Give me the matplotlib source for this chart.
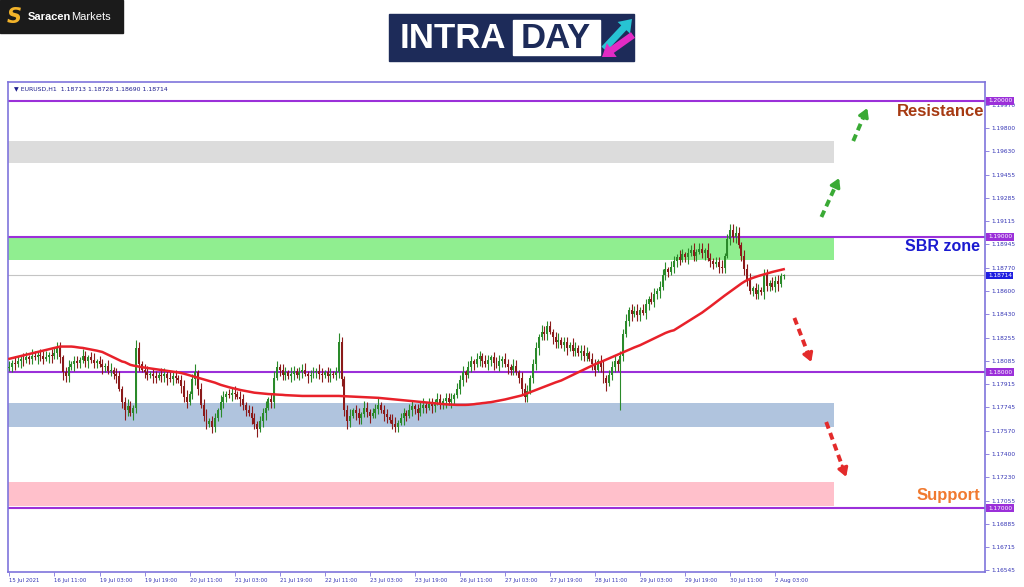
import numpy as np
import matplotlib.pyplot as plt
import matplotlib.transforms as mtransforms
from matplotlib.patches import Rectangle, FancyArrow

# hourly EURUSD candles, prices kept in pips above 1.17000
first_open = 103
closes = [104, 107, 106, 108, 110, 109, 111, 110, 112, 111, 113, 112, 110, 111, 113, 112, 114, 118, 111,
          100, 97,
          104, 106, 108, 107, 109, 112, 108, 111, 109, 107, 108,
          106, 104, 105, 101, 102, 99, 97,
          88, 78, 72, 75, 70, 74,
          118, 106,
          102, 100, 98, 99, 97, 96, 98, 97, 99, 96, 95, 97, 96, 94,
          90, 82, 78, 84, 95, 100,
          88, 76, 68, 62, 64, 60, 66,
          72, 78, 82, 84, 83, 85, 84, 82, 80,
          76, 72, 70, 66, 62, 58, 64,
          70, 74, 80, 78,
          96, 104, 102,
          98, 100, 97, 99, 101, 98, 100, 102, 99, 97, 98, 100, 101, 99, 98, 100, 97, 99, 98, 100,
          122, 95, 72, 64,
          68, 72, 70, 66, 69, 74, 71, 68, 70, 73, 76, 72, 69, 67, 65, 62, 60, 63, 66, 70, 68, 72, 75, 73, 70, 74,
          76, 74, 77, 75, 78, 80, 77, 79, 81, 78, 80, 83,
          88, 94, 100, 98, 104, 108, 106,
          110, 112, 108, 106, 109, 111, 107, 105, 108, 110, 106, 104, 102, 105, 100, 96,
          88, 82, 86,
          96, 106, 118, 126, 130, 128, 134,
          130, 126, 122, 124, 120, 122, 118, 120, 116, 118, 114, 116, 112, 114, 110,
          106, 102, 108, 104, 96, 92, 98, 104, 108, 106,
          112,
          128, 138, 146, 143, 145, 142, 146, 144, 150, 154, 152, 158, 160, 163, 172, 176, 174, 178, 182, 185,
          183, 187, 185, 188, 190, 186, 189, 191, 188, 190, 184, 182, 180, 181, 178, 177, 186, 198, 205, 200,
          203, 194, 186, 176, 168, 160, 162, 158, 161, 159, 172, 164, 166, 163, 167, 165, 171.3, 171.4]

up_wick = [4, 2, 5, 4, 2, 4, 4, 2, 5, 4, 2, 4, 4, 5, 2, 4, 4, 4, 4, 2,
           4, 5, 2, 4, 4, 2, 5, 4, 2, 4, 5, 2, 4, 4, 2, 4, 5, 2, 4, 4,
           2, 4, 5, 4, 2, 6, 4, 2, 4, 5, 2, 4, 4, 2, 5, 4, 2, 4, 4, 5,
           2, 4, 4, 5, 2, 4, 6, 2, 4, 4, 5, 2, 4, 4, 2, 5, 4, 2, 4, 4,
           5, 2, 4, 4, 2, 4, 5, 4, 2, 4, 4, 5, 2, 4, 5, 4, 2, 4, 4, 2,
           5, 4, 2, 4, 4, 5, 2, 4, 4, 2, 5, 4, 2, 4, 4, 2, 4, 7, 4, 2,
           4, 5, 2, 4, 4, 2, 5, 4, 2, 4, 4, 5, 2, 4, 4, 2, 4, 5, 2, 4,
           4, 2, 5, 4, 2, 4, 4, 5, 2, 4, 4, 2, 5, 4, 2, 4, 4, 5, 2, 4,
           4, 5, 2, 4, 4, 2, 4, 4, 2, 5, 4, 2, 4, 4, 5, 2, 4, 4, 2, 5,
           4, 2, 4, 4, 5, 2, 4, 4, 2, 5, 4, 4, 4, 2, 4, 5, 2, 4, 4, 2,
           5, 4, 2, 4, 4, 5, 2, 4, 4, 2, 5, 4, 2, 4, 4, 5, 2, 4, 4, 5,
           2, 4, 4, 5, 2, 4, 4, 2, 5, 4, 2, 4, 4, 5, 2, 4, 4, 2, 5, 4,
           2, 4, 4, 5, 2, 4, 4, 2, 5, 4, 2, 4, 4, 5, 2, 4, 4, 4, 5, 4,
           2, 4, 4, 5, 2, 4, 4, 2, 4, 4, 2, 4, 4, 5, 2, 1.4]

dn_wick = [2, 4, 4, 2, 5, 4, 2, 4, 4, 2, 5, 4, 4, 2, 4, 5, 2, 4, 4, 6,
           4, 4, 2, 5, 4, 4, 2, 4, 5, 2, 4, 4, 2, 5, 4, 2, 4, 4, 5, 2,
           4, 7, 4, 2, 5, 4, 5, 2, 4, 4, 2, 5, 4, 2, 4, 4, 5, 2, 4, 4,
           2, 5, 4, 4, 2, 4, 4, 5, 2, 4, 4, 2, 5, 4, 2, 5, 4, 4, 2, 4,
           4, 2, 5, 4, 4, 2, 4, 4, 6, 2, 4, 5, 2, 4, 4, 2, 5, 4, 4, 2,
           4, 5, 2, 4, 4, 2, 5, 4, 2, 4, 4, 5, 2, 4, 4, 2, 4, 4, 5, 4,
           6, 4, 2, 5, 4, 4, 2, 4, 5, 2, 4, 4, 2, 5, 4, 2, 4, 4, 4, 2,
           5, 4, 2, 4, 4, 5, 2, 4, 4, 2, 5, 4, 2, 4, 4, 5, 2, 4, 4, 2,
           4, 4, 5, 2, 4, 4, 2, 5, 4, 2, 4, 4, 5, 2, 4, 4, 2, 5, 4, 4,
           2, 4, 5, 4, 4, 2, 4, 4, 5, 2, 4, 4, 2, 5, 4, 4, 2, 4, 5, 2,
           4, 4, 2, 5, 4, 4, 2, 4, 5, 2, 4, 4, 6, 2, 4, 4, 5, 34, 4, 2,
           4, 5, 2, 4, 4, 2, 5, 4, 2, 4, 4, 5, 2, 4, 4, 2, 5, 4, 4, 2,
           4, 5, 2, 4, 4, 2, 4, 5, 2, 4, 4, 2, 5, 4, 4, 2, 4, 4, 5, 2,
           4, 4, 4, 2, 4, 4, 4, 2, 5, 4, 4, 2, 4, 5, 2, 2.3]

# moving average (pips above 1.17000)
ma = [110, 110.5, 111, 111.5, 112, 112.5, 113, 113.5, 114, 114.5, 115, 115.5, 116, 116.5, 117, 117.5,
      118, 118.5, 119, 119, 119,
      119, 119, 118.8, 118.5, 118.2, 118, 117.6, 117.2, 116.8, 116.4, 116, 115.5, 115,
      114, 113, 112, 111, 110, 109, 108, 107.5, 106.5, 105.5, 105,
      104.6, 104.2, 103.8, 103.5, 103.2, 102.9, 102.6, 102.3, 102, 101.7, 101.4, 101.1, 100.8, 100.5,
      100.2, 99.9, 99.5,
      99, 98.4, 97.8, 97.2, 96.6, 96, 95.4, 94.8, 94.2, 93.6, 93, 92.4, 91.6, 90.8,
      90.2, 89.6, 89, 88.5, 88, 87.5, 87, 86.6, 86.2, 85.8, 85.4, 85,
      84.8, 84.6, 84.4, 84.2, 84, 83.9, 83.8, 83.6, 83.5, 83.4, 83.2, 83.1, 83, 82.9, 82.8, 82.7, 82.6,
      82.6, 82.6, 82.6, 82.6, 82.6, 82.6, 82.6, 82.6, 82.6, 82.6, 82.6, 82.6, 82.6, 82.5, 82.4, 82.3,
      82.2, 82.1, 82, 81.9, 81.8, 81.7, 81.6, 81.5, 81.4, 81.3, 81.2, 81,
      80.8, 80.6, 80.4, 80.2, 80, 79.8, 79.6, 79.4, 79.2, 79, 78.8, 78.6, 78.4, 78.2, 78, 77.8, 77.6,
      77.4, 77.2, 77, 76.8, 76.6, 76.4, 76.3, 76.2, 76.1, 76, 76,
      76, 76, 76.1, 76.3, 76.5, 76.8, 77, 77.3, 77.5, 77.8, 78,
      78.4, 78.8, 79.2, 79.6, 80, 80.5, 81, 81.5, 82, 82.5, 83,
      83.8, 84.6, 85.4, 86.2, 87, 87.8, 88.6, 89.4, 90.2, 91, 91.8, 92.6, 93.3, 94,
      95, 96, 97, 98, 99, 100, 101, 102, 103, 104, 105, 106, 106.8, 107.6,
      108.5, 109.4, 110.3, 111.2, 112.1, 113, 113.9, 114.8, 115.7, 116.6, 117.5, 118.4, 119.2, 120,
      121, 122, 123, 124, 125, 126, 127, 128, 129, 129.8, 130.5, 131,
      132.3, 133.6, 134.9, 136.2, 137.5, 138.8, 140.1, 141.4, 142.7, 144,
      145.5, 147, 148.6, 150.2, 151.8, 153.4, 155,
      156.5, 158, 159.5, 161, 162.5, 164, 165.5, 166.8, 168,
      168.8, 169.6, 170.3, 171, 171.6, 172.2, 172.8, 173.4, 174, 174.5, 175, 175.5, 176]

time_labels = ['15 Jul 2021', '16 Jul 11:00', '19 Jul 03:00', '19 Jul 19:00', '20 Jul 11:00',
               '21 Jul 03:00', '21 Jul 19:00', '22 Jul 11:00', '23 Jul 03:00', '23 Jul 19:00',
               '26 Jul 11:00', '27 Jul 03:00', '27 Jul 19:00', '28 Jul 11:00', '29 Jul 03:00',
               '29 Jul 19:00', '30 Jul 11:00', '2 Aug 03:00']
price_ticks = [1.19970, 1.19800, 1.19630, 1.19455, 1.19285, 1.19115, 1.18945, 1.18770, 1.18600,
               1.18430, 1.18255, 1.18085, 1.17915, 1.17745, 1.17570, 1.17400, 1.17230, 1.17055,
               1.16885, 1.16715, 1.16545]

levels = [1.20000, 1.19000, 1.18000, 1.17000]
zone_low = [1.19543, 1.18828, 1.17597, 1.17015]
zone_high = [1.19705, 1.19000, 1.17774, 1.17192]
zone_colors = ['#dcdcdc', '#90ee90', '#b0c4de', '#ffc0cb']
zone_end = 293
current_price = 1.18714

base = 1.17
pip = 0.0001
frame = '#7f74dc'
level_color = '#9b30d9'
label_color = '#3535b5'

c = base + np.array(closes) * pip
o = np.concatenate([[base + first_open * pip], c[:-1]])
h = np.maximum(o, c) + np.array(up_wick) * pip
l = np.minimum(o, c) - np.array(dn_wick) * pip
x = np.arange(len(c))

fig = plt.figure(figsize=(10.24, 5.87), dpi=100)
ax = fig.add_axes([8 / 1024, 15 / 587, 977 / 1024, 490 / 587])
ax.set_xlim(-0.5, 346.5)
ax.set_ylim(1.165283, 1.201400)

# zones and levels
for lo, hi, col in zip(zone_low, zone_high, zone_colors):
    ax.add_patch(Rectangle((-0.5, lo), zone_end + 0.5, hi - lo, color=col, lw=0, zorder=1))
for lv in levels:
    ax.axhline(lv, color=level_color, lw=1.5, zorder=2)
ax.axhline(current_price, color='#c4c4c4', lw=0.8, zorder=2)

# candles
cols = np.where(c >= o, '#2a8a2a', '#8b1a1a')
ax.vlines(x, l, h, colors=cols, lw=0.8, zorder=3)
body = np.maximum(np.abs(c - o), 0.00004)
ax.bar(x, body, bottom=np.minimum(o, c), width=0.7, color=cols, lw=0, zorder=4)
ax.plot(x, base + np.array(ma) * pip, color='#e8212a', lw=1.8, zorder=5)


def dashed_arrow(x0, y0, x1, y1, color):
    xm = x0 + (x1 - x0) * 0.8
    ym = y0 + (y1 - y0) * 0.8
    ax.plot([x0, xm], [y0, ym], color=color, lw=2.8, ls=(0, (1.8, 1.2)), zorder=6)
    ax.annotate('', xy=(x1, y1), xytext=(xm, ym),
                arrowprops=dict(arrowstyle='-|>,head_length=0.5,head_width=0.3', color=color,
                                lw=2.2, shrinkA=0, shrinkB=0), zorder=6)


dashed_arrow(288.4, 1.19145, 294.7, 1.19432, '#3aaa35')
dashed_arrow(299.7, 1.19705, 304.7, 1.19948, '#3aaa35')
dashed_arrow(278.8, 1.18401, 284.8, 1.18076, '#e32b2b')
dashed_arrow(290.1, 1.17634, 297.2, 1.17229, '#e32b2b')

bold_font = ['Liberation Sans', 'DejaVu Sans']
ax.text(346.2, 1.19919, 'Resistance', ha='right', va='center', color='#a63a12', fontsize=12,
        fontweight='bold', family=bold_font, zorder=7)
ax.text(344.7, 1.18924, 'SBR zone', ha='right', va='center', color='#1a1ad0', fontsize=11.5,
        fontweight='bold', family=bold_font, zorder=7)
ax.text(344.7, 1.17089, 'Support', ha='right', va='center', color='#f07a30', fontsize=12,
        fontweight='bold', family=bold_font, zorder=7)

ax.text(0.006, 0.986, '\u25bc EURUSD,H1  1.18713 1.18728 1.18690 1.18714', transform=ax.transAxes,
        fontsize=4.4, color='#1c1c8c', va='center')

# axes styling
for s in ax.spines.values():
    s.set_color(frame)
    s.set_linewidth(1.2)
ax.yaxis.tick_right()
ax.set_yticks(price_ticks)
ax.set_yticklabels(['%.5f' % p for p in price_ticks], fontsize=4.2, color=label_color)
ax.tick_params(axis='y', length=3, width=0.6, color=frame, pad=1.5)
ax.set_xticks(np.arange(0, 16 * len(time_labels), 16))
ax.set_xticklabels(time_labels, fontsize=3.9, color=label_color, ha='left')
ax.tick_params(axis='x', length=3, width=0.6, color=frame, pad=1.5)

trans = mtransforms.blended_transform_factory(ax.transAxes, ax.transData)
for lv in levels:
    ax.text(1.003, lv, '%.5f' % lv, transform=trans, fontsize=4.2, color='white', va='center',
            ha='left', bbox=dict(boxstyle='square,pad=0.25', fc=level_color, ec='none'),
            zorder=10, clip_on=False)
ax.text(1.003, current_price, '%.5f' % current_price, transform=trans, fontsize=4.2, color='white',
        va='center', ha='left', bbox=dict(boxstyle='square,pad=0.25', fc='#1f1fe0', ec='none'),
        zorder=10, clip_on=False)

# logos in pixel coordinates
deco = fig.add_axes([0, 0, 1, 1])
deco.set_xlim(0, 1024)
deco.set_ylim(587, 0)
deco.axis('off')
deco.patch.set_alpha(0)

deco.add_patch(Rectangle((0, 0), 123, 33, color='#1b1b1b'))
deco.text(14, 17, 'S', color='#f2b32a', fontsize=15, fontweight='bold', style='italic',
          ha='center', va='center')
deco.text(28, 17, 'Saracen', color='white', fontsize=8, fontweight='bold', va='center',
          family=bold_font)
deco.text(71, 17, 'Markets', color='white', fontsize=8, va='center', family=bold_font)

deco.add_patch(Rectangle((389, 14), 245, 47, color='#1d2b59'))
deco.add_patch(Rectangle((513, 20), 87, 35, color='white'))
deco.text(453, 38, 'INTRA', color='white', fontsize=25, fontweight='bold', ha='center', va='center',
          family=bold_font)
deco.text(556, 38, 'DAY', color='#1d2b59', fontsize=25, fontweight='bold', ha='center', va='center',
          family=bold_font)
deco.add_patch(FancyArrow(604, 49, 28, -30, width=7, head_width=17, head_length=12,
                          length_includes_head=True, color='#27c3d3', lw=0))
deco.add_patch(FancyArrow(633, 35, -31, 22, width=7, head_width=17, head_length=12,
                          length_includes_head=True, color='#e22bc4', lw=0))

fig.savefig('out.png', dpi=100)
